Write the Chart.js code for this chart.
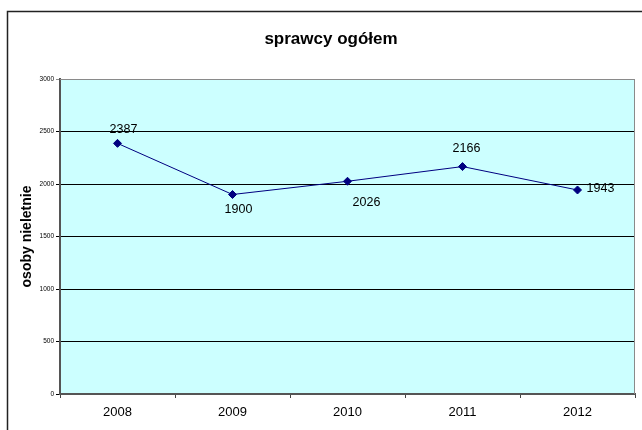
<!DOCTYPE html>
<html>
<head>
<meta charset="utf-8">
<script src="https://cdn.jsdelivr.net/npm/chart.js@4"></script>
<style>
  body { margin: 0; background: #fff; }
  #wrap { width: 642px; height: 430px; }
</style>
</head>
<body>
<div id="wrap"><canvas id="chart" width="642" height="430"></canvas></div>
<script>
var years = ["2008", "2009", "2010", "2011", "2012"];
var offenders = [2387, 1900, 2026, 2166, 1943];
var yTicks = [0, 500, 1000, 1500, 2000, 2500, 3000];
var chartTitle = "sprawcy ogółem";
// where each value label sits relative to its point (dx, dy)
var labelShift = [[6, -14], [6, 15], [19, 21], [4, -18], [23, -1]];

var FONT = "'Liberation Sans', Arial, sans-serif";

// cyan plot area + grey frame, the outer box and the title (centred on the box, not the canvas)
var plotBg = {
	id: "plotBg",
	beforeDraw: function(chart)
	{
		let ctx = chart.ctx;
		let a = chart.chartArea;
		ctx.save();
		ctx.fillStyle = "#ccffff";
		ctx.fillRect(a.left, a.top, a.right - a.left, a.bottom - a.top);
		ctx.strokeStyle = "#222";
		ctx.lineWidth = 1.5;
		ctx.strokeRect(7.5, 11.5, 700, 500);
		ctx.fillStyle = "#000";
		ctx.font = "bold 17px " + FONT;
		ctx.textAlign = "center";
		ctx.textBaseline = "middle";
		ctx.fillText(chartTitle, 331, 39);
		ctx.restore();
	},
	beforeDatasetsDraw: function(chart)
	{
		let ctx = chart.ctx;
		let a = chart.chartArea;
		ctx.save();
		ctx.strokeStyle = "#8a8a8a";
		ctx.lineWidth = 1;
		ctx.beginPath();
		ctx.moveTo(a.left, a.top + 0.5);
		ctx.lineTo(a.right - 0.5, a.top + 0.5);
		ctx.lineTo(a.right - 0.5, a.bottom);
		ctx.stroke();
		ctx.restore();
	}
};

var valueLabels = {
	id: "valueLabels",
	afterDatasetsDraw: function(chart)
	{
		let ctx = chart.ctx;
		let meta = chart.getDatasetMeta(0);
		ctx.save();
		ctx.font = "12.5px " + FONT;
		ctx.fillStyle = "#000";
		ctx.textAlign = "center";
		ctx.textBaseline = "middle";
		for (let i = 0; i < meta.data.length; i++)
		{
			let p = meta.data[i];
			ctx.fillText(offenders[i], p.x + labelShift[i][0], p.y + labelShift[i][1]);
		}
		ctx.restore();
	}
};

new Chart(document.getElementById("chart"),
{
	type: "line",
	data:
	{
		labels: years,
		datasets:
		[{
			data: offenders,
			borderColor: "#000080",
			borderWidth: 1,
			backgroundColor: "#000080",
			pointStyle: "rectRot",
			pointRadius: 4,
			pointHoverRadius: 4,
			tension: 0
		}]
	},
	options:
	{
		responsive: false,
		animation: false,
		devicePixelRatio: 1,
		layout: { padding: { left: 8, right: 7, top: 79, bottom: 6 } },
		plugins:
		{
			legend: { display: false },
			tooltip: { enabled: false },
			title: { display: false }
		},
		scales:
		{
			x:
			{
				offset: true,
				grid: { offset: true, drawOnChartArea: false, tickLength: 4, color: "#444", lineWidth: 1 },
				border: { color: "#555", width: 2 },
				ticks: { color: "#000", font: { family: FONT, size: 13 }, padding: 7, maxRotation: 0 },
				afterFit: function(scale) { scale.height = 30; }
			},
			y:
			{
				min: 0,
				max: 3000,
				afterBuildTicks: function(scale) { scale.ticks = yTicks.map(function(v) { return { value: v }; }); },
				grid:
				{
					color: function(c) { return c.tick && c.tick.value === 3000 ? "#8a8a8a" : "#000"; },
					lineWidth: 1,
					tickLength: 4
				},
				border: { color: "#555", width: 2 },
				ticks:
				{
					color: "#000",
					font: { family: FONT, size: 6.5 },
					padding: 2,
					callback: function(v) { return String(v); }
				},
				title:
				{
					display: true,
					text: "osoby nieletnie",
					color: "#000",
					font: { family: FONT, size: 14, weight: "bold" },
					padding: { top: 11, bottom: 0 }
				},
				afterFit: function(scale) { scale.width = 52; }
			}
		}
	},
	plugins: [plotBg, valueLabels]
});
</script>
</body>
</html>
